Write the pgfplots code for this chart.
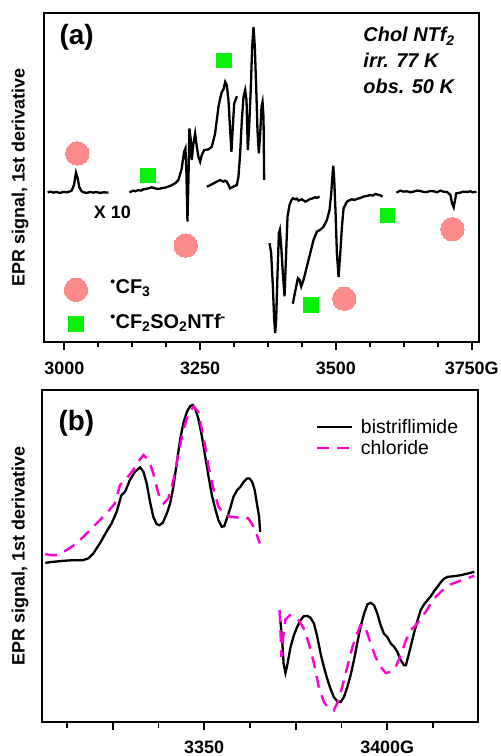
\documentclass[border=0pt]{standalone}
\usepackage{pgfplots}
\pgfplotsset{compat=1.18}
\usepackage{fontspec}
\setmainfont{Liberation Sans}
\definecolor{cfpink}{RGB}{255,138,138}
\definecolor{cfgreen}{RGB}{10,240,10}
\definecolor{chlmag}{RGB}{255,0,210}
\tikzset{tl/.style={font=\bfseries\fontsize{18}{20}\selectfont, anchor=base, inner sep=0pt}}
\pgfplotsset{
  epr/.style={
    scale only axis,
    clip=false,
    axis line style={line width=1.6bp},
    ytick=\empty,
    tick align=outside,
    xtick pos=bottom,
    major tick length=8bp,
    minor tick length=5.5bp,
    tick style={line width=1.8bp, black},
    xticklabels={},
    ylabel={\bfseries\fontsize{18}{20}\selectfont EPR signal, 1st derivative},
    unbounded coords=jump,
  },
}
\begin{document}
\begin{tikzpicture}
\useasboundingbox (0,0) rectangle (501bp,756bp);
% ---------------- panel (a) ----------------
\begin{axis}[epr,
  at={(44bp,414bp)}, anchor=south west,
  width=435bp, height=329bp,
  xmin=2962.6, xmax=3763.4, ymin=0, ymax=989,
  xtick={3000,3250,3500,3750},
  minor xtick={3062.5,3125,3187.5,3312.5,3375,3437.5,3562.5,3625,3687.5},
  ylabel style={at={(axis description cs:-0.0552,0.5)}, anchor=center},
]
\addplot[black, line width=2.3bp] coordinates {
(2969.3,450)(2975,452)(2979.7,449)(2985,451)(2992.0,448)(2998,451)(3004.3,450)(3009,452)(3013.5,455)(3017.8,472)(3021.5,509)(3024.6,492)(3027.6,465)(3031.9,453)(3036,450)(3041.2,448)(3047,451)(3053.4,449)(3059,451)(3065.7,448)(3072,450)(3081.1,449)};
\addplot[black, line width=2.3bp] coordinates {
(3119.8,450)(3127.1,455)(3131,453)(3136.4,457)(3141,455)(3145.6,459)(3150,460)(3154.8,462)(3160.9,465)(3167.1,462)(3171,460)(3176.3,461)(3181,463)(3185.5,464)(3194.7,469)(3203.9,477)(3210.1,487)(3216.2,522)(3220.5,572)(3223.0,582)(3224.8,507)(3226.7,362)(3228.5,487)(3230.3,642)(3232.8,607)(3234.6,547)(3237.7,597)(3240.8,627)(3243.9,587)(3246.9,557)(3250.0,542)(3253.1,562)(3257.4,577)(3265.4,579)(3271.5,587)(3277.6,627)(3283.8,707)(3286.9,732)(3289.9,752)(3293.0,759)(3296.1,782)(3299.1,772)(3302.2,727)(3305.3,637)(3307.7,572)(3310.2,647)(3312.7,717)(3315.1,727)(3317.6,739)};
\addplot[black, line width=2.3bp] coordinates {
(3262.3,467)(3267,470)(3271.5,474)(3276,478)(3280.7,482)(3286.9,487)(3290,484)(3293.0,482)(3296,485)(3299.1,482)(3305.3,462)(3311.4,467)(3317.6,472)(3320.6,497)(3323.7,567)(3326.8,667)(3329.9,737)(3332.9,757)(3335.4,727)(3337.8,577)(3340.3,647)(3343.4,767)(3345.8,887)(3348.3,947)(3350.7,887)(3353.2,767)(3355.6,637)(3358.1,567)(3360.6,627)(3363.0,707)(3364.9,722)(3366.7,677)(3367.9,487)};
\addplot[black, line width=2.3bp] coordinates {
(3377.8,297)(3380.8,267)(3383.9,167)(3386.4,67)(3388.2,27)(3390.0,67)(3392.5,207)(3395.0,327)(3396.8,337)(3399.3,287)(3402.3,207)(3405.4,137)(3407.9,247)(3410.9,377)(3414.6,412)(3418.3,427)(3421,432)(3425.1,429)(3428,431)(3431.2,425)(3434,427)(3437.3,429)(3440,426)(3443.5,422)(3449.6,427)(3452,430)(3455.8,431)(3461.9,435)(3465,433)(3469.9,437)};
\addplot[black, line width=2.3bp] coordinates {
(3420.8,115)(3423.2,137)(3426.9,167)(3430.0,192)(3433.0,187)(3436.1,167)(3440.4,187)(3446.6,227)(3452.7,267)(3458.8,307)(3465.0,332)(3471.1,337)(3477.3,347)(3483.4,367)(3488.3,397)(3491.4,447)(3493.9,507)(3495.1,530)(3496.9,487)(3499.4,387)(3501.8,267)(3504.9,195)(3508.0,267)(3511.1,347)(3514.1,402)(3520.3,422)(3525,426)(3529.5,429)(3534,427)(3538.7,430)(3545,433)(3551.0,437)(3557,439)(3563.3,442)(3568,440)(3572.5,445)(3577,443)(3581.7,441)(3586.0,437)};
\addplot[black, line width=2.3bp] coordinates {
(3611.2,449)(3618.6,455)(3624,452)(3630.8,453)(3637,450)(3643.1,452)(3649,455)(3655.4,454)(3661,451)(3667.7,451)(3674,454)(3680.0,453)(3686,450)(3692.3,455)(3698,452)(3704.5,451)(3710.7,442)(3713.8,417)(3716.8,405)(3719.3,427)(3721.7,447)(3729.1,449)(3735,452)(3741.4,451)(3748,453)(3752,450)(3758.6,452)};
% markers
\addplot[only marks, mark=*, mark size=11.7bp, mark options={draw=cfpink, fill=cfpink, line width=0pt}] coordinates {
(3024.0,567)(3223.6,290)(3515.4,130)(3714.4,339)(3021.5,157)};
\addplot[only marks, mark=square*, mark size=7.2bp, mark options={draw=cfgreen, fill=cfgreen, line width=0pt}] coordinates {
(3294.2,846)(3154.2,501)(3453.9,111)(3595.2,381)(3021.5,54)};
% tick labels
\node[tl] at ([yshift=-32.5bp]axis cs:3000,0) {3000};
\node[tl] at ([yshift=-32.5bp]axis cs:3250,0) {3250};
\node[tl] at ([yshift=-32.5bp]axis cs:3500,0) {3500};
\node[tl] at ([yshift=-32.5bp]axis cs:3750,0) {3750G};
% texts
\node[font=\bfseries\fontsize{28}{32}\selectfont] at (axis cs:3022.7,917) {(a)};
\node[font=\bfseries\itshape\fontsize{20}{26}\selectfont, align=left, anchor=north west, inner sep=0pt] at (axis cs:3550.4,946) {Chol NTf\textsubscript{2}\\irr. 77 K\\obs. 50 K};
\node[font=\bfseries\fontsize{18}{20}\selectfont] at (axis cs:3088.5,390) {X 10};
\node[font=\bfseries\fontsize{20}{24}\selectfont, anchor=west, inner sep=0pt] at (axis cs:3084.2,162) {\textsuperscript{\textbullet}CF\textsubscript{3}};
\node[font=\bfseries\fontsize{20}{24}\selectfont, anchor=west, inner sep=0pt] at (axis cs:3084.2,57) {\textsuperscript{\textbullet}CF\textsubscript{2}SO\textsubscript{2}NTf\textsuperscript{-}};
\end{axis}
% ---------------- panel (b) ----------------
\begin{axis}[epr,
  at={(42bp,34bp)}, anchor=south west,
  width=436bp, height=332bp,
  xmin=3305.7, xmax=3424.8, ymin=0, ymax=995,
  xtick={3325,3350,3375,3400},
  minor xtick={3312.5,3337.5,3362.5,3387.5,3412.5},
  ylabel style={at={(axis description cs:-0.0505,0.5)}, anchor=center},
  legend style={at={(axis description cs:0.627,0.918)}, anchor=north west, draw=none, fill=none,
    font=\fontsize{19.5}{21}\selectfont, inner sep=0pt, row sep=1.5pt,
    /tikz/every odd column/.append style={column sep=6bp}},
  legend cell align=left,
  legend image code/.code={\draw[#1] (0bp,0bp) -- (35bp,0bp);},
]
\addplot[black, line width=2.3bp] coordinates {
(3306.6,477)(3308.7,480)(3311.5,483)(3314.2,485)(3316.9,485)(3318.3,490)(3319.7,505)(3321.5,535)(3323.3,570)(3324.7,595)(3326.1,630)(3327.4,680)(3328.4,690)(3329.7,725)(3331.1,750)(3332.5,763)(3333.4,750)(3334.3,715)(3335.2,660)(3336.1,615)(3337.0,593)(3337.8,590)(3338.7,597)(3339.8,625)(3340.7,655)(3341.6,705)(3342.5,775)(3343.4,845)(3344.3,895)(3345.3,930)(3346.2,947)(3346.9,950)(3347.5,940)(3348.4,910)(3349.4,855)(3350.3,795)(3351.2,735)(3352.1,680)(3353.0,640)(3353.9,605)(3354.8,585)(3355.5,587)(3356.2,610)(3357.1,640)(3358.0,675)(3359.0,695)(3359.9,705)(3360.8,720)(3361.7,730)(3362.4,730)(3363.1,720)(3363.8,695)(3364.4,655)(3365.0,615)(3365.3,570)
(3368,nan)
(3370.8,305)(3371.3,245)(3371.7,175)(3372.2,147)(3372.6,165)(3373.6,225)(3374.5,260)(3375.4,285)(3376.3,305)(3377.2,317)(3378.1,318)(3379.0,313)(3380.0,295)(3380.9,255)(3381.8,205)(3382.7,165)(3383.6,130)(3384.5,100)(3385.4,75)(3386.3,63)(3387.3,60)(3388.2,75)(3389.1,105)(3390.0,140)(3390.9,185)(3391.8,235)(3392.7,285)(3393.7,325)(3394.6,353)(3395.5,357)(3396.4,350)(3397.3,325)(3398.2,290)(3399.1,265)(3400.0,255)(3401.0,235)(3401.9,225)(3402.8,210)(3403.7,185)(3404.6,170)(3405.1,170)(3405.7,195)(3406.4,225)(3407.4,270)(3408.3,305)(3409.2,337)(3410.1,353)(3411.0,365)(3411.9,377)(3412.8,392)(3413.7,405)(3414.7,420)(3415.6,430)(3416.5,435)(3418.3,437)(3420.1,440)(3422.0,445)(3423.8,450)};
\addlegendentry{bistriflimide}
\addplot[chlmag, line width=2.4bp, dash pattern=on 12bp off 8bp] coordinates {
(3306.6,503)(3308.3,500)(3310.1,500)(3312.4,515)(3315.1,535)(3317.9,565)(3320.6,595)(3323.3,625)(3325.6,655)(3327.0,710)(3328.8,730)(3330.6,755)(3332.0,780)(3333.4,800)(3334.3,790)(3335.2,775)(3336.1,745)(3337.0,705)(3337.9,670)(3338.9,655)(3340.2,670)(3341.6,725)(3343.0,805)(3344.3,875)(3345.7,925)(3347.1,945)(3348.4,930)(3349.4,875)(3350.3,825)(3351.2,765)(3352.6,695)(3353.9,645)(3355.3,625)(3357.1,615)(3359.0,613)(3360.8,615)(3362.1,610)(3363.5,585)(3364.4,560)(3365.2,535)
(3368,nan)
(3370.6,335)(3370.8,285)(3371.1,195)(3371.6,255)(3372.2,307)(3373.4,320)(3374.5,318)(3375.8,305)(3377.2,280)(3378.6,235)(3380.0,175)(3381.3,105)(3382.7,60)(3384.1,40)(3385.4,35)(3386.5,60)(3387.7,105)(3389.1,165)(3390.5,225)(3391.8,265)(3392.7,290)(3393.7,293)(3394.6,265)(3395.5,235)(3396.8,195)(3398.2,165)(3399.6,147)(3401.0,150)(3402.3,165)(3403.7,200)(3405.1,245)(3406.4,275)(3407.8,290)(3409.2,310)(3410.5,330)(3411.9,355)(3412.8,370)(3414.2,385)(3415.6,400)(3417.4,413)(3419.2,420)(3421.1,427)(3422.9,435)(3423.8,438)};
\addlegendentry{chloride}
\node[tl] at ([yshift=-31.5bp]axis cs:3350,0) {3350};
\node[tl] at ([yshift=-31.5bp]axis cs:3400,0) {3400G};
\node[font=\bfseries\fontsize{28}{32}\selectfont] at (axis cs:3315.1,895) {(b)};
\end{axis}
\end{tikzpicture}
\end{document}
